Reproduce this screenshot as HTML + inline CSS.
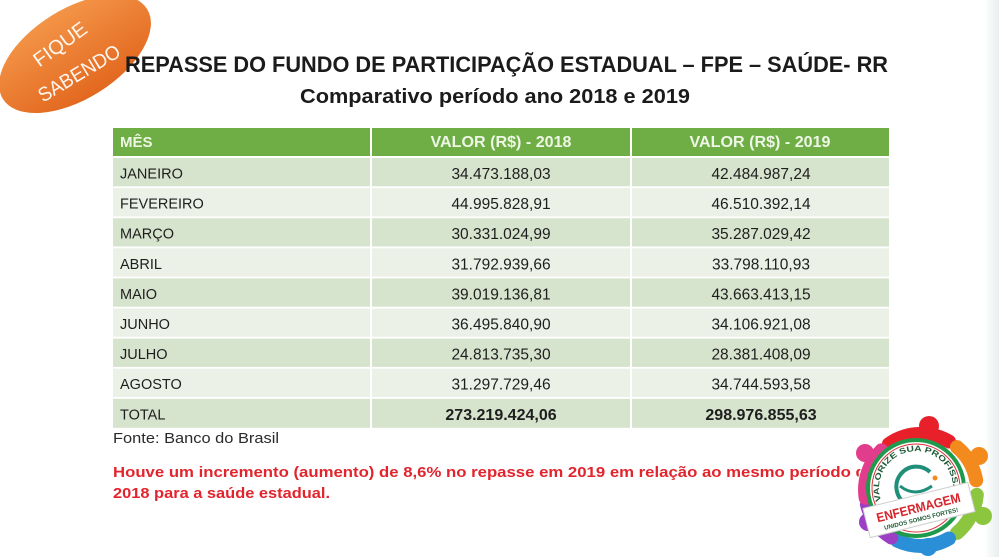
<!DOCTYPE html>
<html>
<head>
<meta charset="utf-8">
<style>
  html,body{margin:0;padding:0;background:#ffffff;}
  svg{display:block;}
  .t{font-family:"Liberation Sans",Arial,sans-serif;}
</style>
</head>
<body>
<svg width="999" height="557" viewBox="0 0 999 557" xmlns="http://www.w3.org/2000/svg">
  <defs>
    <linearGradient id="og" x1="0" y1="0" x2="0" y2="1">
      <stop offset="0" stop-color="#f39447"/>
      <stop offset="1" stop-color="#e2681f"/>
    </linearGradient>
    <linearGradient id="rs" x1="0" y1="0" x2="1" y2="0">
      <stop offset="0" stop-color="#ffffff"/>
      <stop offset="1" stop-color="#e9eeee"/>
    </linearGradient>
    <path id="arcTxt" d="M 886.2 502.7 A 37 37 0 1 1 955.8 502.7"/>
  </defs>

  <rect x="0" y="0" width="999" height="557" fill="#ffffff"/>
  <rect x="984" y="0" width="15" height="557" fill="url(#rs)"/>

  <!-- Badge -->
  <ellipse cx="75" cy="54" rx="85" ry="45" fill="url(#og)" transform="rotate(-32 75 54)"/>
  <text class="t" x="60" y="51" text-anchor="middle" font-size="20" fill="#fff6ee" transform="rotate(-36 60 44)">FIQUE</text>
  <text class="t" x="79" y="80" text-anchor="middle" font-size="20" fill="#fff6ee" textLength="92" lengthAdjust="spacingAndGlyphs" transform="rotate(-31 79 73)">SABENDO</text>

  <!-- Title -->
  <text class="t" x="125" y="72" font-size="22" font-weight="bold" fill="#1b1b1b" textLength="763" lengthAdjust="spacingAndGlyphs">REPASSE DO FUNDO DE PARTICIPAÇÃO ESTADUAL – FPE  – SAÚDE- RR</text>
  <text class="t" x="300" y="103" font-size="20" font-weight="bold" fill="#1b1b1b" textLength="390" lengthAdjust="spacingAndGlyphs">Comparativo período ano 2018 e 2019</text>

  <!-- Table header -->
  <rect x="113" y="128" width="257" height="28" fill="#6eae45"/>
  <rect x="372" y="128" width="258" height="28" fill="#6eae45"/>
  <rect x="632" y="128" width="257" height="28" fill="#6eae45"/>
  <text class="t" x="120" y="147" font-size="15" font-weight="bold" fill="#eef6e6">MÊS</text>
  <text class="t" x="501" y="147" text-anchor="middle" font-size="15.5" font-weight="bold" fill="#eef6e6" textLength="141" lengthAdjust="spacingAndGlyphs">VALOR (R$) - 2018</text>
  <text class="t" x="760" y="147" text-anchor="middle" font-size="15.5" font-weight="bold" fill="#eef6e6" textLength="141" lengthAdjust="spacingAndGlyphs">VALOR (R$) - 2019</text>

  <!-- Rows -->
  <g fill="#d6e3cd">
    <rect x="113" y="158" width="257" height="28.3"/><rect x="372" y="158" width="258" height="28.3"/><rect x="632" y="158" width="257" height="28.3"/>
    <rect x="113" y="218.2" width="257" height="28.3"/><rect x="372" y="218.2" width="258" height="28.3"/><rect x="632" y="218.2" width="257" height="28.3"/>
    <rect x="113" y="278.4" width="257" height="28.3"/><rect x="372" y="278.4" width="258" height="28.3"/><rect x="632" y="278.4" width="257" height="28.3"/>
    <rect x="113" y="338.6" width="257" height="28.3"/><rect x="372" y="338.6" width="258" height="28.3"/><rect x="632" y="338.6" width="257" height="28.3"/>
    <rect x="113" y="398.8" width="257" height="29"/><rect x="372" y="398.8" width="258" height="29"/><rect x="632" y="398.8" width="257" height="29"/>
  </g>
  <g fill="#ebf1e7">
    <rect x="113" y="188.1" width="257" height="28.3"/><rect x="372" y="188.1" width="258" height="28.3"/><rect x="632" y="188.1" width="257" height="28.3"/>
    <rect x="113" y="248.3" width="257" height="28.3"/><rect x="372" y="248.3" width="258" height="28.3"/><rect x="632" y="248.3" width="257" height="28.3"/>
    <rect x="113" y="308.5" width="257" height="28.3"/><rect x="372" y="308.5" width="258" height="28.3"/><rect x="632" y="308.5" width="257" height="28.3"/>
    <rect x="113" y="368.7" width="257" height="28.3"/><rect x="372" y="368.7" width="258" height="28.3"/><rect x="632" y="368.7" width="257" height="28.3"/>
  </g>

  <g class="t" font-size="14.5" fill="#1e1e1e">
    <text x="120" y="178.5">JANEIRO</text>
    <text x="120" y="208.6">FEVEREIRO</text>
    <text x="120" y="238.7">MARÇO</text>
    <text x="120" y="268.8">ABRIL</text>
    <text x="120" y="298.9">MAIO</text>
    <text x="120" y="329">JUNHO</text>
    <text x="120" y="359.1">JULHO</text>
    <text x="120" y="389.2">AGOSTO</text>
    <text x="120" y="419.3">TOTAL</text>
  </g>
  <g class="t" font-size="15.5" fill="#1e1e1e" text-anchor="middle">
    <text x="501" y="179">34.473.188,03</text>
    <text x="761" y="179">42.484.987,24</text>
    <text x="501" y="209.1">44.995.828,91</text>
    <text x="761" y="209.1">46.510.392,14</text>
    <text x="501" y="239.2">30.331.024,99</text>
    <text x="761" y="239.2">35.287.029,42</text>
    <text x="501" y="269.3">31.792.939,66</text>
    <text x="761" y="269.3">33.798.110,93</text>
    <text x="501" y="299.4">39.019.136,81</text>
    <text x="761" y="299.4">43.663.413,15</text>
    <text x="501" y="329.5">36.495.840,90</text>
    <text x="761" y="329.5">34.106.921,08</text>
    <text x="501" y="359.6">24.813.735,30</text>
    <text x="761" y="359.6">28.381.408,09</text>
    <text x="501" y="389.7">31.297.729,46</text>
    <text x="761" y="389.7">34.744.593,58</text>
    <text x="501" y="419.8" font-size="16" font-weight="bold">273.219.424,06</text>
    <text x="761" y="419.8" font-size="16" font-weight="bold">298.976.855,63</text>
  </g>

  <!-- Source -->
  <text class="t" x="113" y="443" font-size="15" fill="#2a2a2a" textLength="166" lengthAdjust="spacingAndGlyphs">Fonte: Banco do Brasil</text>

  <!-- Red note -->
  <text class="t" x="113" y="477" font-size="14.5" font-weight="bold" fill="#e2242d" textLength="762" lengthAdjust="spacingAndGlyphs">Houve um incremento (aumento) de 8,6% no repasse em 2019 em relação ao mesmo período de</text>
  <text class="t" x="113" y="498" font-size="14.5" font-weight="bold" fill="#e2242d" textLength="217" lengthAdjust="spacingAndGlyphs">2018 para a saúde estadual.</text>

  <!-- Logo -->
  <g transform="translate(-5,-2)">
    <circle cx="926" cy="492" r="64" fill="#ffffff"/>
    <g fill="none" stroke-width="14" stroke-linecap="round">
      <path d="M 893.9 446.1 A 56 56 0 0 1 954 443.5" stroke="#e8202a"/>
      <path d="M 962 449.1 A 56 56 0 0 1 981.2 482.3" stroke="#f28a1e"/>
      <path d="M 981.8 496.9 A 56 56 0 0 1 962 534.9" stroke="#8cc63f"/>
      <path d="M 954 540.5 A 56 56 0 0 1 902.3 542.7" stroke="#2a8fd6"/>
      <path d="M 896.3 539.5 A 56 56 0 0 1 871.9 506.5" stroke="#9b3fc4"/>
      <path d="M 870.6 499.8 A 56 56 0 0 1 886.4 452.4" stroke="#e23d8c"/>
    </g>
    <circle cx="934" cy="428" r="10" fill="#e8202a"/>
    <circle cx="984" cy="458" r="9" fill="#f28a1e"/>
    <circle cx="988" cy="518" r="9" fill="#8cc63f"/>
    <circle cx="933" cy="549" r="9" fill="#2a8fd6"/>
    <circle cx="873" cy="524" r="9" fill="#9b3fc4"/>
    <circle cx="870" cy="455" r="9" fill="#e23d8c"/>
    <circle cx="921" cy="490" r="48" fill="#ffffff" stroke="#1f9a4c" stroke-width="4"/>
    <circle cx="921" cy="490" r="44" fill="none" stroke="#d8323a" stroke-width="1"/>
    <text class="t" font-size="8" font-weight="bold" fill="#1d5a36">
      <textPath href="#arcTxt" textLength="140" lengthAdjust="spacingAndGlyphs">VALORIZE SUA PROFISSÃO</textPath>
    </text>
    <path d="M 935 474 A 20 20 0 1 0 939 498" fill="none" stroke="#1f8f7a" stroke-width="4"/>
    <path d="M 905 488 Q 920 500 937 488" fill="none" stroke="#1f8f7a" stroke-width="3"/>
    <circle cx="940" cy="480" r="2.5" fill="#f28a1e"/>
    <g transform="rotate(-14 924 512)">
      <rect x="870" y="497" width="108" height="30" fill="#ffffff" stroke="#cfcfcf" stroke-width="1"/>
      <text class="t" x="924" y="514" text-anchor="middle" font-size="13" font-weight="bold" fill="#d8232a" textLength="86" lengthAdjust="spacingAndGlyphs">ENFERMAGEM</text>
      <text class="t" x="924" y="523" text-anchor="middle" font-size="6" font-weight="bold" fill="#1d5a36" textLength="76" lengthAdjust="spacingAndGlyphs">UNIDOS SOMOS FORTES!</text>
    </g>
  </g>
</svg>
</body>
</html>
